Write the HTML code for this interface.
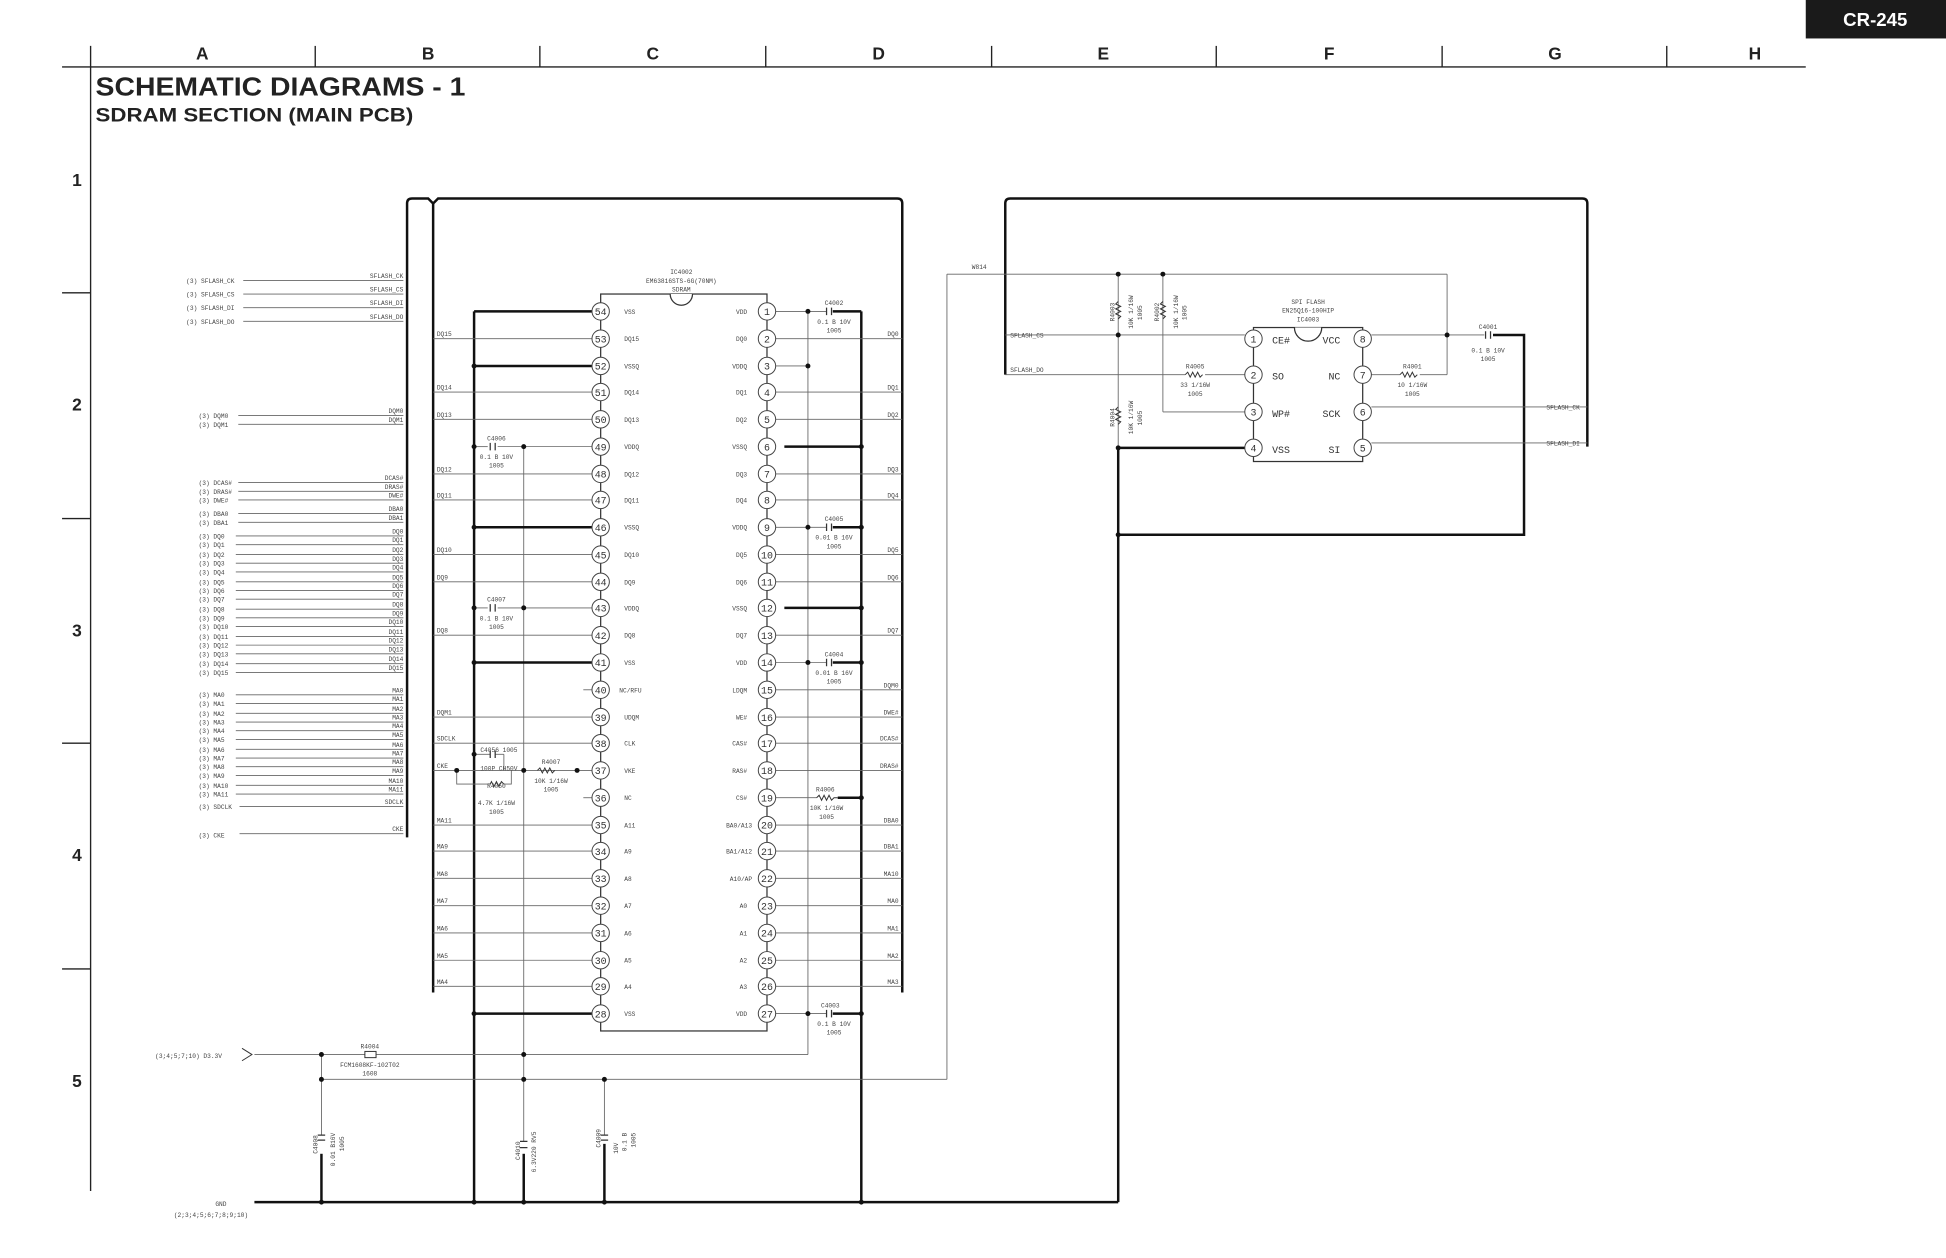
<!DOCTYPE html>
<html><head><meta charset="utf-8"><style>
html,body{margin:0;padding:0;background:#fff}
svg{display:block}
.t{font-family:"Liberation Mono",monospace;font-size:5px;fill:#444}
.p{font-family:"Liberation Mono",monospace;font-size:8px;fill:#333}
.sl{stroke:#666;stroke-width:.7;fill:none}
.th{stroke:#111;stroke-width:2;fill:none}
.bk{stroke:#222;stroke-width:1.1;fill:none}
.hd{font-family:"Liberation Sans",sans-serif;font-weight:bold;fill:#222}
</style></head><body>
<svg width="1946" height="1258" viewBox="0 0 1568 1014" preserveAspectRatio="none" xmlns="http://www.w3.org/2000/svg">
<rect x="1455" y="0" width="113" height="31" fill="#1a1a1a"/>
<text x="1511" y="21" text-anchor="middle" class="hd" font-size="15" fill="#fff" style="fill:#fff">CR-245</text>
<line x1="50" y1="54" x2="1455" y2="54" class="bk" stroke-width="1.4"/>
<line x1="73" y1="37" x2="73" y2="960" class="bk"/>
<g class="bk"><line x1="254" y1="37" x2="254" y2="54"/><line x1="435" y1="37" x2="435" y2="54"/><line x1="617" y1="37" x2="617" y2="54"/><line x1="799" y1="37" x2="799" y2="54"/><line x1="980" y1="37" x2="980" y2="54"/><line x1="1162" y1="37" x2="1162" y2="54"/><line x1="1343" y1="37" x2="1343" y2="54"/>
<line x1="50" y1="236" x2="73" y2="236"/><line x1="50" y1="418" x2="73" y2="418"/><line x1="50" y1="599" x2="73" y2="599"/><line x1="50" y1="781" x2="73" y2="781"/></g>
<g class="hd" font-size="14" text-anchor="middle"><text x="163" y="48">A</text><text x="345" y="48">B</text><text x="526" y="48">C</text><text x="708" y="48">D</text><text x="889" y="48">E</text><text x="1071" y="48">F</text><text x="1253" y="48">G</text><text x="1414" y="48">H</text>
<text x="62" y="150">1</text><text x="62" y="331">2</text><text x="62" y="513">3</text><text x="62" y="694">4</text><text x="62" y="876">5</text></g>
<text x="77" y="77" class="hd" font-size="21" textLength="298" lengthAdjust="spacingAndGlyphs">SCHEMATIC DIAGRAMS - 1</text>
<text x="77" y="98" class="hd" font-size="16" textLength="256" lengthAdjust="spacingAndGlyphs">SDRAM SECTION (MAIN PCB)</text>
<g class="th" stroke-width="2">
<path d="M328 675 V164 Q328 160 332 160 H345 L349 164 V800"/>
<path d="M349 164 L353 160 H723 Q727 160 727 164 V800"/>
<path d="M810 302 V164 Q810 160 814 160 H1275 Q1279 160 1279 164 V360"/>
<path d="M382 251 V969"/><path d="M694 251 V969"/><path d="M205 969 H901"/><path d="M901 360 V969"/><path d="M901 431 H1228 V270 H1203"/>
</g>
<g class="sl">
<line x1="196" y1="226" x2="325" y2="226"/><line x1="196" y1="237" x2="325" y2="237"/><line x1="196" y1="248" x2="325" y2="248"/><line x1="196" y1="259" x2="325" y2="259"/>
<line x1="192" y1="335" x2="325" y2="335"/><line x1="192" y1="342" x2="325" y2="342"/>
<line x1="192" y1="389" x2="325" y2="389"/><line x1="192" y1="396" x2="325" y2="396"/><line x1="192" y1="403" x2="325" y2="403"/><line x1="192" y1="414" x2="325" y2="414"/><line x1="192" y1="421" x2="325" y2="421"/>
<line x1="190" y1="432" x2="325" y2="432"/><line x1="190" y1="439" x2="325" y2="439"/><line x1="190" y1="447" x2="325" y2="447"/><line x1="190" y1="454" x2="325" y2="454"/><line x1="190" y1="461" x2="325" y2="461"/><line x1="190" y1="469" x2="325" y2="469"/><line x1="190" y1="476" x2="325" y2="476"/><line x1="190" y1="483" x2="325" y2="483"/><line x1="190" y1="491" x2="325" y2="491"/><line x1="190" y1="498" x2="325" y2="498"/><line x1="190" y1="505" x2="325" y2="505"/><line x1="190" y1="513" x2="325" y2="513"/><line x1="190" y1="520" x2="325" y2="520"/><line x1="190" y1="527" x2="325" y2="527"/><line x1="190" y1="535" x2="325" y2="535"/><line x1="190" y1="542" x2="325" y2="542"/>
<line x1="190" y1="560" x2="325" y2="560"/><line x1="190" y1="567" x2="325" y2="567"/><line x1="190" y1="575" x2="325" y2="575"/><line x1="190" y1="582" x2="325" y2="582"/><line x1="190" y1="589" x2="325" y2="589"/><line x1="190" y1="596" x2="325" y2="596"/><line x1="190" y1="604" x2="325" y2="604"/><line x1="190" y1="611" x2="325" y2="611"/><line x1="190" y1="618" x2="325" y2="618"/><line x1="190" y1="625" x2="325" y2="625"/><line x1="190" y1="633" x2="325" y2="633"/><line x1="190" y1="640" x2="325" y2="640"/>
<line x1="193" y1="650" x2="325" y2="650"/><line x1="193" y1="672" x2="325" y2="672"/>
</g>
<g class="t">
<text x="150" y="228">(3)  SFLASH_CK</text><text x="150" y="239">(3)  SFLASH_CS</text><text x="150" y="250">(3)  SFLASH_DI</text><text x="150" y="261">(3) SFLASH_DO</text>
<text x="160" y="337">(3)  DQM0</text><text x="160" y="344">(3)  DQM1</text>
<text x="160" y="391">(3)  DCAS#</text><text x="160" y="398">(3)  DRAS#</text><text x="160" y="405">(3)  DWE#</text><text x="160" y="416">(3)  DBA0</text><text x="160" y="423">(3)  DBA1</text>
<text x="160" y="434">(3)  DQ0</text><text x="160" y="441">(3)  DQ1</text><text x="160" y="449">(3)  DQ2</text><text x="160" y="456">(3)  DQ3</text><text x="160" y="463">(3)  DQ4</text><text x="160" y="471">(3)  DQ5</text><text x="160" y="478">(3)  DQ6</text><text x="160" y="485">(3)  DQ7</text><text x="160" y="493">(3)  DQ8</text><text x="160" y="500">(3)  DQ9</text><text x="160" y="507">(3)  DQ10</text><text x="160" y="515">(3)  DQ11</text><text x="160" y="522">(3)  DQ12</text><text x="160" y="529">(3)  DQ13</text><text x="160" y="537">(3)  DQ14</text><text x="160" y="544">(3)  DQ15</text>
<text x="160" y="562">(3)  MA0</text><text x="160" y="569">(3)  MA1</text><text x="160" y="577">(3)  MA2</text><text x="160" y="584">(3)  MA3</text><text x="160" y="591">(3)  MA4</text><text x="160" y="598">(3)  MA5</text><text x="160" y="606">(3)  MA6</text><text x="160" y="613">(3)  MA7</text><text x="160" y="620">(3)  MA8</text><text x="160" y="627">(3)  MA9</text><text x="160" y="635">(3)  MA10</text><text x="160" y="642">(3)  MA11</text>
<text x="160" y="652">(3)  SDCLK</text><text x="160" y="675">(3)  CKE</text>
</g>
<g class="t" text-anchor="end">
<text x="325" y="224">SFLASH_CK</text><text x="325" y="235">SFLASH_CS</text><text x="325" y="246">SFLASH_DI</text><text x="325" y="257">SFLASH_DO</text>
<text x="325" y="333">DQM0</text><text x="325" y="340">DQM1</text>
<text x="325" y="387">DCAS#</text><text x="325" y="394">DRAS#</text><text x="325" y="401">DWE#</text><text x="325" y="412">DBA0</text><text x="325" y="419">DBA1</text>
<text x="325" y="430">DQ0</text><text x="325" y="437">DQ1</text><text x="325" y="445">DQ2</text><text x="325" y="452">DQ3</text><text x="325" y="459">DQ4</text><text x="325" y="467">DQ5</text><text x="325" y="474">DQ6</text><text x="325" y="481">DQ7</text><text x="325" y="489">DQ8</text><text x="325" y="496">DQ9</text><text x="325" y="503">DQ10</text><text x="325" y="511">DQ11</text><text x="325" y="518">DQ12</text><text x="325" y="525">DQ13</text><text x="325" y="533">DQ14</text><text x="325" y="540">DQ15</text>
<text x="325" y="558">MA0</text><text x="325" y="565">MA1</text><text x="325" y="573">MA2</text><text x="325" y="580">MA3</text><text x="325" y="587">MA4</text><text x="325" y="594">MA5</text><text x="325" y="602">MA6</text><text x="325" y="609">MA7</text><text x="325" y="616">MA8</text><text x="325" y="623">MA9</text><text x="325" y="631">MA10</text><text x="325" y="638">MA11</text>
<text x="325" y="648">SDCLK</text><text x="325" y="670">CKE</text>
</g>
<g class="sl">
<line x1="349" y1="273" x2="477" y2="273"/><line x1="349" y1="316" x2="477" y2="316"/><line x1="349" y1="338" x2="477" y2="338"/><line x1="349" y1="382" x2="477" y2="382"/><line x1="349" y1="403" x2="477" y2="403"/><line x1="349" y1="447" x2="477" y2="447"/><line x1="349" y1="469" x2="477" y2="469"/><line x1="349" y1="512" x2="477" y2="512"/>
<line x1="470" y1="556" x2="477" y2="556"/>
<line x1="349" y1="578" x2="477" y2="578"/><line x1="349" y1="599" x2="477" y2="599"/><line x1="349" y1="621" x2="477" y2="621"/><line x1="470" y1="643" x2="477" y2="643"/>
<line x1="349" y1="665" x2="477" y2="665"/><line x1="349" y1="686" x2="477" y2="686"/><line x1="349" y1="708" x2="477" y2="708"/><line x1="349" y1="730" x2="477" y2="730"/><line x1="349" y1="752" x2="477" y2="752"/><line x1="349" y1="774" x2="477" y2="774"/><line x1="349" y1="795" x2="477" y2="795"/>
<line x1="382" y1="360" x2="393" y2="360"/><line x1="401" y1="360" x2="477" y2="360"/><line x1="382" y1="490" x2="393" y2="490"/><line x1="401" y1="490" x2="477" y2="490"/>
<line x1="422" y1="360" x2="422" y2="870"/>
<path d="M368 621 V632 H395 M405 632 H412 V621"/>
<line x1="382" y1="608" x2="395" y2="608"/><line x1="399" y1="608" x2="406" y2="608" /><path d="M406 608 V621"/>
<line x1="625" y1="273" x2="727" y2="273"/><line x1="625" y1="316" x2="727" y2="316"/><line x1="625" y1="338" x2="727" y2="338"/><line x1="625" y1="382" x2="727" y2="382"/><line x1="625" y1="403" x2="727" y2="403"/><line x1="625" y1="447" x2="727" y2="447"/><line x1="625" y1="469" x2="727" y2="469"/><line x1="625" y1="512" x2="727" y2="512"/>
<line x1="625" y1="556" x2="727" y2="556"/><line x1="625" y1="578" x2="727" y2="578"/><line x1="625" y1="599" x2="727" y2="599"/><line x1="625" y1="621" x2="727" y2="621"/>
<line x1="625" y1="665" x2="727" y2="665"/><line x1="625" y1="686" x2="727" y2="686"/><line x1="625" y1="708" x2="727" y2="708"/><line x1="625" y1="730" x2="727" y2="730"/><line x1="625" y1="752" x2="727" y2="752"/><line x1="625" y1="774" x2="727" y2="774"/><line x1="625" y1="795" x2="727" y2="795"/>
<line x1="625" y1="643" x2="658" y2="643"/>
<line x1="625" y1="251" x2="666" y2="251"/><line x1="625" y1="295" x2="651" y2="295"/><line x1="625" y1="425" x2="666" y2="425"/><line x1="625" y1="534" x2="666" y2="534"/><line x1="625" y1="817" x2="666" y2="817"/>
<line x1="651" y1="251" x2="651" y2="850"/>
<line x1="205" y1="850" x2="651" y2="850"/><line x1="259" y1="850" x2="259" y2="915"/><line x1="259" y1="870" x2="763" y2="870"/><line x1="763" y1="870" x2="763" y2="221"/><line x1="763" y1="221" x2="1166" y2="221"/>
<line x1="422" y1="870" x2="422" y2="920"/><line x1="487" y1="870" x2="487" y2="915"/>
<line x1="810" y1="270" x2="1003" y2="270"/><line x1="810" y1="302" x2="955" y2="302"/><line x1="971" y1="302" x2="1003" y2="302"/><line x1="937" y1="221" x2="937" y2="332"/><line x1="937" y1="332" x2="1003" y2="332"/>
<line x1="901" y1="221" x2="901" y2="360"/><line x1="1166" y1="221" x2="1166" y2="302"/><line x1="1105" y1="270" x2="1196" y2="270"/><line x1="1105" y1="302" x2="1128" y2="302"/><line x1="1144" y1="302" x2="1166" y2="302"/>
<line x1="1105" y1="328" x2="1279" y2="328"/><line x1="1105" y1="357" x2="1279" y2="357"/>
</g>
<g class="th" stroke-width="1.8">
<line x1="382" y1="251" x2="477" y2="251"/><line x1="382" y1="295" x2="477" y2="295"/><line x1="382" y1="425" x2="477" y2="425"/><line x1="382" y1="534" x2="477" y2="534"/><line x1="382" y1="817" x2="477" y2="817"/>
<line x1="632" y1="360" x2="694" y2="360"/><line x1="632" y1="490" x2="694" y2="490"/>
<line x1="671" y1="251" x2="694" y2="251"/><line x1="671" y1="425" x2="694" y2="425"/><line x1="671" y1="534" x2="694" y2="534"/><line x1="671" y1="817" x2="694" y2="817"/><line x1="675" y1="643" x2="694" y2="643"/>
<line x1="259" y1="930" x2="259" y2="969"/><line x1="422" y1="930" x2="422" y2="969"/><line x1="487" y1="922" x2="487" y2="969"/>
<line x1="901" y1="361" x2="1003" y2="361"/>
</g>
<g stroke="#333" stroke-width="1">
<path d="M395 357v6M399 357v6M666 248v6M670 248v6M666 422v6M670 422v6M666 531v6M670 531v6M666 814v6M670 814v6M395 487v6M399 487v6M1197 267v6M1201 267v6M395 605v6M399 605v6"/>
<path d="M256 915h6M256 919h6M419 920h6M419 925h6M484 915h6M484 919h6"/>
</g>
<g stroke="#333" stroke-width=".8" fill="none">
<path d="M433 621 l2 -2 2 4 2 -4 2 4 2 -4 2 4 2 -2"/>
<path d="M395 632 l1 -2 2 4 2 -4 2 4 2 -4 2 2"/>
<path d="M658 643 l2 -2 2 4 2 -4 2 4 2 -4 2 4 2 -2 h3"/>
<path d="M955 302 l2 -2 2 4 2 -4 2 4 2 -4 2 4 2 -2"/>
<path d="M1128 302 l2 -2 2 4 2 -4 2 4 2 -4 2 4 2 -2"/>
<path d="M901 243 l-2 2 4 2 -4 2 4 2 -4 2 4 2 -2 2"/><path d="M937 243 l-2 2 4 2 -4 2 4 2 -4 2 4 2 -2 2"/><path d="M901 328 l-2 2 4 2 -4 2 4 2 -4 2 4 2 -2 2"/>
<rect x="294" y="847.5" width="9" height="5" fill="#fff"/>
<path d="M195 845 l8 5 -8 5"/>
</g>
<g fill="#111">
<circle cx="382" cy="295" r="2"/><circle cx="382" cy="360" r="2"/><circle cx="422" cy="360" r="2"/><circle cx="382" cy="425" r="2"/><circle cx="382" cy="490" r="2"/><circle cx="422" cy="490" r="2"/><circle cx="382" cy="534" r="2"/><circle cx="382" cy="817" r="2"/><circle cx="382" cy="608" r="2"/><circle cx="368" cy="621" r="2"/><circle cx="422" cy="621" r="2"/><circle cx="465" cy="621" r="2"/>
<circle cx="651" cy="251" r="2"/><circle cx="651" cy="295" r="2"/><circle cx="651" cy="425" r="2"/><circle cx="651" cy="534" r="2"/><circle cx="651" cy="817" r="2"/><circle cx="694" cy="360" r="2"/><circle cx="694" cy="425" r="2"/><circle cx="694" cy="490" r="2"/><circle cx="694" cy="534" r="2"/><circle cx="694" cy="643" r="2"/><circle cx="694" cy="817" r="2"/>
<circle cx="259" cy="850" r="2"/><circle cx="422" cy="850" r="2"/><circle cx="259" cy="870" r="2"/><circle cx="422" cy="870" r="2"/><circle cx="487" cy="870" r="2"/>
<circle cx="259" cy="969" r="2"/><circle cx="382" cy="969" r="2"/><circle cx="422" cy="969" r="2"/><circle cx="487" cy="969" r="2"/><circle cx="694" cy="969" r="2"/>
<circle cx="901" cy="221" r="2"/><circle cx="937" cy="221" r="2"/><circle cx="901" cy="270" r="2"/><circle cx="901" cy="361" r="2"/><circle cx="901" cy="431" r="2"/><circle cx="1166" cy="270" r="2"/>
</g>
<rect x="484" y="237" width="134" height="594" fill="none" stroke="#333" stroke-width="1"/>
<path d="M540 237 A9 9 0 0 0 558 237" fill="#fff" stroke="#333"/>
<g fill="#fff" stroke="#444" stroke-width=".8">
<circle cx="484" cy="251" r="7"/><circle cx="484" cy="273" r="7"/><circle cx="484" cy="295" r="7"/><circle cx="484" cy="316" r="7"/><circle cx="484" cy="338" r="7"/><circle cx="484" cy="360" r="7"/><circle cx="484" cy="382" r="7"/><circle cx="484" cy="403" r="7"/><circle cx="484" cy="425" r="7"/><circle cx="484" cy="447" r="7"/><circle cx="484" cy="469" r="7"/><circle cx="484" cy="490" r="7"/><circle cx="484" cy="512" r="7"/><circle cx="484" cy="534" r="7"/><circle cx="484" cy="556" r="7"/><circle cx="484" cy="578" r="7"/><circle cx="484" cy="599" r="7"/><circle cx="484" cy="621" r="7"/><circle cx="484" cy="643" r="7"/><circle cx="484" cy="665" r="7"/><circle cx="484" cy="686" r="7"/><circle cx="484" cy="708" r="7"/><circle cx="484" cy="730" r="7"/><circle cx="484" cy="752" r="7"/><circle cx="484" cy="774" r="7"/><circle cx="484" cy="795" r="7"/><circle cx="484" cy="817" r="7"/>
<circle cx="618" cy="251" r="7"/><circle cx="618" cy="273" r="7"/><circle cx="618" cy="295" r="7"/><circle cx="618" cy="316" r="7"/><circle cx="618" cy="338" r="7"/><circle cx="618" cy="360" r="7"/><circle cx="618" cy="382" r="7"/><circle cx="618" cy="403" r="7"/><circle cx="618" cy="425" r="7"/><circle cx="618" cy="447" r="7"/><circle cx="618" cy="469" r="7"/><circle cx="618" cy="490" r="7"/><circle cx="618" cy="512" r="7"/><circle cx="618" cy="534" r="7"/><circle cx="618" cy="556" r="7"/><circle cx="618" cy="578" r="7"/><circle cx="618" cy="599" r="7"/><circle cx="618" cy="621" r="7"/><circle cx="618" cy="643" r="7"/><circle cx="618" cy="665" r="7"/><circle cx="618" cy="686" r="7"/><circle cx="618" cy="708" r="7"/><circle cx="618" cy="730" r="7"/><circle cx="618" cy="752" r="7"/><circle cx="618" cy="774" r="7"/><circle cx="618" cy="795" r="7"/><circle cx="618" cy="817" r="7"/>
</g>
<g class="p" text-anchor="middle">
<text x="484" y="254">54</text><text x="484" y="276">53</text><text x="484" y="298">52</text><text x="484" y="319">51</text><text x="484" y="341">50</text><text x="484" y="363">49</text><text x="484" y="385">48</text><text x="484" y="406">47</text><text x="484" y="428">46</text><text x="484" y="450">45</text><text x="484" y="472">44</text><text x="484" y="493">43</text><text x="484" y="515">42</text><text x="484" y="537">41</text><text x="484" y="559">40</text><text x="484" y="581">39</text><text x="484" y="602">38</text><text x="484" y="624">37</text><text x="484" y="646">36</text><text x="484" y="668">35</text><text x="484" y="689">34</text><text x="484" y="711">33</text><text x="484" y="733">32</text><text x="484" y="755">31</text><text x="484" y="777">30</text><text x="484" y="798">29</text><text x="484" y="820">28</text>
<text x="618" y="254">1</text><text x="618" y="276">2</text><text x="618" y="298">3</text><text x="618" y="319">4</text><text x="618" y="341">5</text><text x="618" y="363">6</text><text x="618" y="385">7</text><text x="618" y="406">8</text><text x="618" y="428">9</text><text x="618" y="450">10</text><text x="618" y="472">11</text><text x="618" y="493">12</text><text x="618" y="515">13</text><text x="618" y="537">14</text><text x="618" y="559">15</text><text x="618" y="581">16</text><text x="618" y="602">17</text><text x="618" y="624">18</text><text x="618" y="646">19</text><text x="618" y="668">20</text><text x="618" y="689">21</text><text x="618" y="711">22</text><text x="618" y="733">23</text><text x="618" y="755">24</text><text x="618" y="777">25</text><text x="618" y="798">26</text><text x="618" y="820">27</text>
</g>
<g class="t">
<text x="503" y="253">VSS</text><text x="503" y="275">DQ15</text><text x="503" y="297">VSSQ</text><text x="503" y="318">DQ14</text><text x="503" y="340">DQ13</text><text x="503" y="362">VDDQ</text><text x="503" y="384">DQ12</text><text x="503" y="405">DQ11</text><text x="503" y="427">VSSQ</text><text x="503" y="449">DQ10</text><text x="503" y="471">DQ9</text><text x="503" y="492">VDDQ</text><text x="503" y="514">DQ8</text><text x="503" y="536">VSS</text><text x="499" y="558">NC/RFU</text><text x="503" y="580">UDQM</text><text x="503" y="601">CLK</text><text x="503" y="623">VKE</text><text x="503" y="645">NC</text><text x="503" y="667">A11</text><text x="503" y="688">A9</text><text x="503" y="710">A8</text><text x="503" y="732">A7</text><text x="503" y="754">A6</text><text x="503" y="776">A5</text><text x="503" y="797">A4</text><text x="503" y="819">VSS</text>
</g>
<g class="t" text-anchor="end">
<text x="602" y="253">VDD</text><text x="602" y="275">DQ0</text><text x="602" y="297">VDDQ</text><text x="602" y="318">DQ1</text><text x="602" y="340">DQ2</text><text x="602" y="362">VSSQ</text><text x="602" y="384">DQ3</text><text x="602" y="405">DQ4</text><text x="602" y="427">VDDQ</text><text x="602" y="449">DQ5</text><text x="602" y="471">DQ6</text><text x="602" y="492">VSSQ</text><text x="602" y="514">DQ7</text><text x="602" y="536">VDD</text><text x="602" y="558">LDQM</text><text x="602" y="580">WE#</text><text x="602" y="601">CAS#</text><text x="602" y="623">RAS#</text><text x="602" y="645">CS#</text><text x="606" y="667">BA0/A13</text><text x="606" y="688">BA1/A12</text><text x="606" y="710">A10/AP</text><text x="602" y="732">A0</text><text x="602" y="754">A1</text><text x="602" y="776">A2</text><text x="602" y="797">A3</text><text x="602" y="819">VDD</text>
<text x="724" y="271">DQ0</text><text x="724" y="314">DQ1</text><text x="724" y="336">DQ2</text><text x="724" y="380">DQ3</text><text x="724" y="401">DQ4</text><text x="724" y="445">DQ5</text><text x="724" y="467">DQ6</text><text x="724" y="510">DQ7</text><text x="724" y="554">DQM0</text><text x="724" y="576">DWE#</text><text x="724" y="597">DCAS#</text><text x="724" y="619">DRAS#</text><text x="724" y="663">DBA0</text><text x="724" y="684">DBA1</text><text x="724" y="706">MA10</text><text x="724" y="728">MA0</text><text x="724" y="750">MA1</text><text x="724" y="772">MA2</text><text x="724" y="793">MA3</text>
</g>
<g class="t">
<text x="352" y="271">DQ15</text><text x="352" y="314">DQ14</text><text x="352" y="336">DQ13</text><text x="352" y="380">DQ12</text><text x="352" y="401">DQ11</text><text x="352" y="445">DQ10</text><text x="352" y="467">DQ9</text><text x="352" y="510">DQ8</text><text x="352" y="576">DQM1</text><text x="352" y="597">SDCLK</text><text x="352" y="619">CKE</text><text x="352" y="663">MA11</text><text x="352" y="684">MA9</text><text x="352" y="706">MA8</text><text x="352" y="728">MA7</text><text x="352" y="750">MA6</text><text x="352" y="772">MA5</text><text x="352" y="793">MA4</text>
</g>
<g class="t" text-anchor="middle">
<text x="549" y="221">IC4002</text><text x="549" y="228">EM63816STS-6G(70NM)</text><text x="549" y="235">SDRAM</text>
<text x="400" y="355">C4006</text><text x="400" y="370">0.1 B 10V</text><text x="400" y="377">1005</text>
<text x="400" y="485">C4007</text><text x="400" y="500">0.1 B 10V</text><text x="400" y="507">1005</text>
<text x="402" y="606">C4056 1005</text><text x="402" y="621">100P CH50V</text><text x="444" y="616">R4007</text><text x="444" y="631">10K 1/16W</text><text x="444" y="638">1005</text><text x="400" y="635">R4050</text><text x="400" y="649">4.7K 1/16W</text><text x="400" y="656">1005</text>
<text x="672" y="246">C4002</text><text x="672" y="261">0.1 B 10V</text><text x="672" y="268">1005</text>
<text x="672" y="420">C4005</text><text x="672" y="435">0.01 B 16V</text><text x="672" y="442">1005</text>
<text x="672" y="529">C4004</text><text x="672" y="544">0.01 B 16V</text><text x="672" y="551">1005</text>
<text x="669" y="812">C4003</text><text x="672" y="827">0.1 B 10V</text><text x="672" y="834">1005</text>
<text x="665" y="638">R4006</text><text x="666" y="653">10K 1/16W</text><text x="666" y="660">1005</text>
<text x="298" y="845">R4004</text><text x="298" y="860">FCM1608KF-102T02</text><text x="298" y="867">1608</text>
<text x="789" y="217">W814</text>
<text x="1054" y="245">SPI FLASH</text><text x="1054" y="252">EN25Q16-100HIP</text><text x="1054" y="259">IC4003</text>
<text x="963" y="297">R4005</text><text x="963" y="312">33 1/16W</text><text x="963" y="319">1005</text>
<text x="1138" y="297">R4001</text><text x="1138" y="312">10 1/16W</text><text x="1138" y="319">1005</text>
<text x="1199" y="265">C4001</text><text x="1199" y="284">0.1 B 10V</text><text x="1199" y="291">1005</text>
<text x="178" y="972">GND</text><text x="170" y="981">(2;3;4;5;6;7;8;9;10)</text>
</g>
<text x="125" y="853" class="t">(3;4;5;7;10)  D3.3V</text>
<g class="t">
<text x="814" y="272">SFLASH_CS</text><text x="814" y="300">SFLASH_DO</text>
<text x="1246" y="330">SFLASH_CK</text><text x="1246" y="359">SFLASH_DI</text>
<text transform="translate(898,259) rotate(-90)">R4003</text><text transform="translate(913,265) rotate(-90)">10K 1/16W</text><text transform="translate(920,258) rotate(-90)">1005</text>
<text transform="translate(934,259) rotate(-90)">R4002</text><text transform="translate(949,265) rotate(-90)">10K 1/16W</text><text transform="translate(956,258) rotate(-90)">1005</text>
<text transform="translate(898,344) rotate(-90)">R4004</text><text transform="translate(913,350) rotate(-90)">10K 1/16W</text><text transform="translate(920,343) rotate(-90)">1005</text>
<text transform="translate(256,930) rotate(-90)">C4008</text><text transform="translate(270,940) rotate(-90)">0.01 B16V</text><text transform="translate(277,928) rotate(-90)">1005</text>
<text transform="translate(419,935) rotate(-90)">C4010</text><text transform="translate(432,945) rotate(-90)">6.3V220 RV5</text>
<text transform="translate(484,925) rotate(-90)">C4009</text><text transform="translate(498,930) rotate(-90)">10V</text><text transform="translate(505,928) rotate(-90)">0.1 B</text><text transform="translate(512,925) rotate(-90)">1005</text>
</g>
<rect x="1010" y="264" width="88" height="108" fill="none" stroke="#333" stroke-width="1"/>
<path d="M1043 264 A11 11 0 0 0 1065 264" fill="#fff" stroke="#333"/>
<g fill="#fff" stroke="#444" stroke-width=".8">
<circle cx="1010" cy="273" r="7"/><circle cx="1010" cy="302" r="7"/><circle cx="1010" cy="332" r="7"/><circle cx="1010" cy="361" r="7"/>
<circle cx="1098" cy="273" r="7"/><circle cx="1098" cy="302" r="7"/><circle cx="1098" cy="332" r="7"/><circle cx="1098" cy="361" r="7"/>
</g>
<g class="p" text-anchor="middle">
<text x="1010" y="276">1</text><text x="1010" y="305">2</text><text x="1010" y="335">3</text><text x="1010" y="364">4</text>
<text x="1098" y="276">8</text><text x="1098" y="305">7</text><text x="1098" y="335">6</text><text x="1098" y="364">5</text>
</g>
<g class="p" font-size="9">
<text x="1025" y="277">CE#</text><text x="1025" y="306">SO</text><text x="1025" y="336">WP#</text><text x="1025" y="365">VSS</text>
<text x="1080" y="277" text-anchor="end">VCC</text><text x="1080" y="306" text-anchor="end">NC</text><text x="1080" y="336" text-anchor="end">SCK</text><text x="1080" y="365" text-anchor="end">SI</text>
</g>
</svg>
</body></html>
